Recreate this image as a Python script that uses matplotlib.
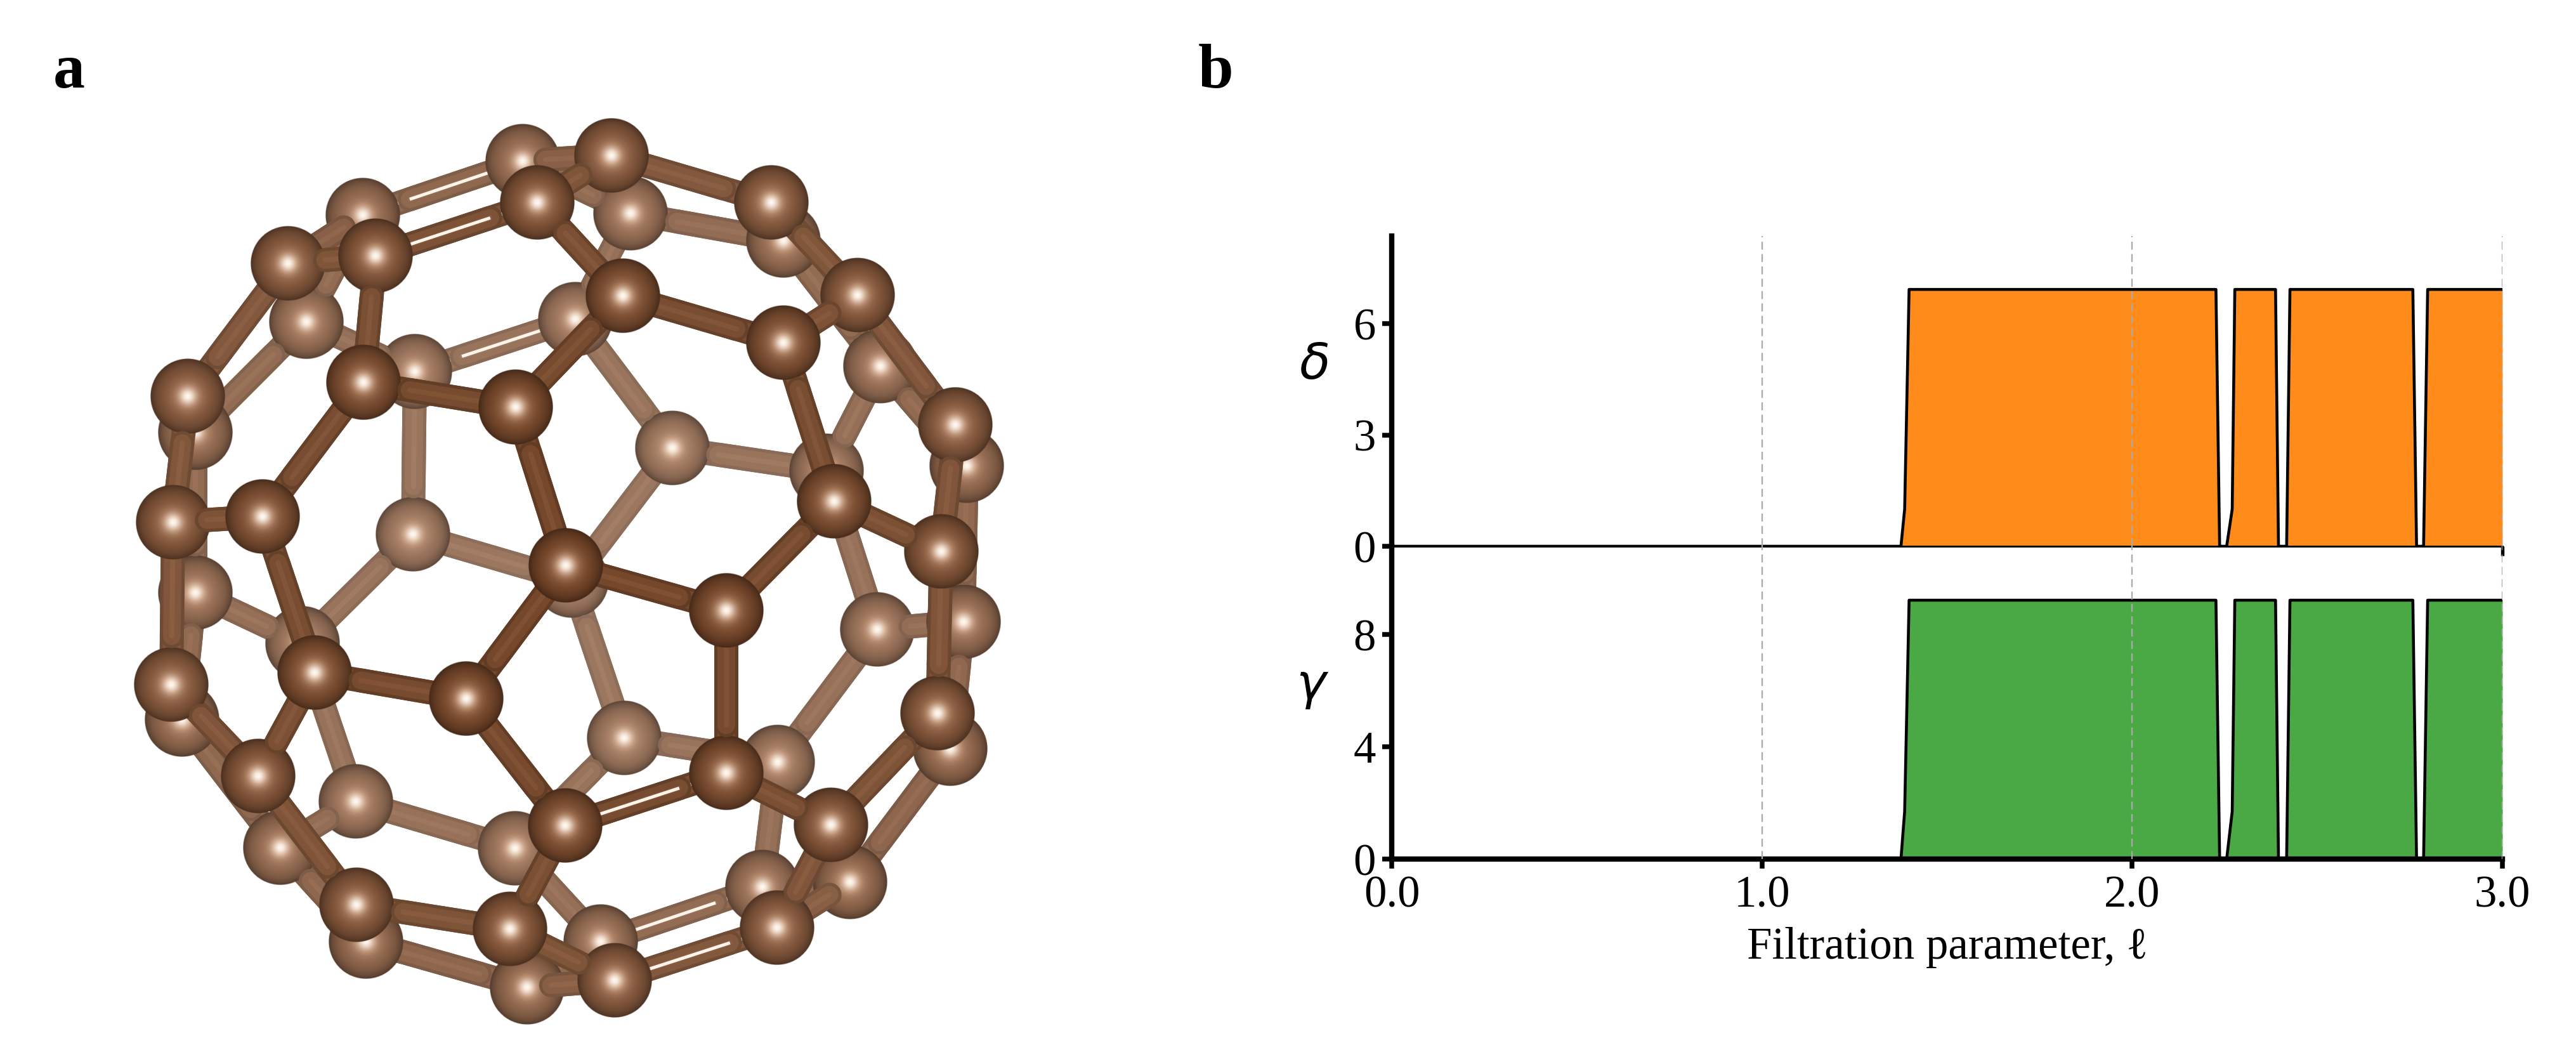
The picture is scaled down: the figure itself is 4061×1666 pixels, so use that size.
import numpy as np
import matplotlib
matplotlib.use('Agg')
import matplotlib.pyplot as plt

plt.rcParams['font.family'] = ['Liberation Serif', 'DejaVu Sans']

# Panel a: atom positions, in image pixels
front_names = ['a', 'b', 'c', 'd', 'e', 'f', 'g', 'h', 'i', 'j', 'k', 'l', 'm', 'n', 'o',
               'p', 'q', 'r', 's', 't', 'u', 'v', 'w', 'x', 'y', 'z', 'aa', 'bb', 'cc', 'dd']
front_x = [964, 847, 592, 454, 982, 573, 813, 296, 414, 273, 1216, 1352, 1235, 1506, 1315,
           892, 496, 735, 270, 407, 891, 562, 804, 969, 1145, 1484, 1145, 1310, 1478, 1225]
front_y = [245, 319, 403, 415, 466, 603, 642, 625, 814, 823, 319, 465, 540, 670, 790,
           891, 1060, 1101, 1079, 1223, 1301, 1426, 1464, 1545, 962, 869, 1218, 1300, 1124, 1462]

back_names = ['A', 'B', 'C', 'D', 'E', 'F', 'G', 'H', 'I', 'J', 'K', 'L', 'M', 'N', 'O',
              'P', 'Q', 'R', 'S', 'T', 'U', 'V', 'W', 'X', 'Y', 'Z', 'AA', 'BB', 'CC', 'DD']
back_x = [824, 572, 994, 483, 907, 654, 308, 651, 1235, 1388, 1060, 1524, 1303, 308, 477,
          287, 561, 442, 812, 577, 831, 947, 901, 1383, 1519, 984, 1226, 1498, 1202, 1340]
back_y = [254, 339, 336, 507, 503, 586, 682, 842, 379, 577, 706, 734, 742, 934, 1014,
          1134, 1263, 1336, 1337, 1484, 1556, 1484, 915, 992, 980, 1163, 1201, 1180, 1398, 1390]

single_bonds = [('a', 'b'), ('a', 'A'), ('a', 'k'), ('b', 'e'), ('c', 'd'), ('c', 'f'), ('d', 'h'), ('d', 'B'),
                ('e', 'g'), ('e', 'm'), ('f', 'g'), ('f', 'i'), ('g', 'p'), ('h', 'j'), ('h', 'G'), ('i', 'j'),
                ('i', 'q'), ('j', 's'), ('k', 'l'), ('k', 'I'), ('l', 'm'), ('l', 'n'), ('m', 'o'), ('n', 'z'),
                ('n', 'L'), ('o', 'y'), ('o', 'z'), ('p', 'y'), ('p', 'r'), ('q', 'r'), ('q', 't'), ('r', 'u'),
                ('s', 't'), ('s', 'P'), ('t', 'v'), ('u', 'w'), ('v', 'w'), ('v', 'T'), ('w', 'x'), ('x', 'U'),
                ('y', 'aa'), ('z', 'cc'), ('aa', 'bb'), ('bb', 'cc'), ('bb', 'dd'), ('cc', 'BB'), ('dd', 'DD'),
                ('A', 'C'), ('B', 'D'), ('C', 'I'), ('C', 'E'), ('D', 'F'), ('D', 'G'), ('E', 'K'), ('F', 'H'),
                ('G', 'N'), ('H', 'O'), ('H', 'W'), ('I', 'J'), ('J', 'M'), ('J', 'L'), ('K', 'M'), ('K', 'W'),
                ('L', 'Y'), ('M', 'X'), ('N', 'O'), ('N', 'P'), ('O', 'Q'), ('P', 'R'), ('Q', 'R'), ('Q', 'S'),
                ('R', 'T'), ('S', 'V'), ('S', 'Z'), ('U', 'V'), ('W', 'Z'), ('X', 'Y'), ('X', 'AA'), ('Y', 'BB'),
                ('Z', 'AA'), ('AA', 'CC'), ('CC', 'DD'), ('T', 'U'), ('BB', 'DD')]
double_bonds = [('b', 'c'), ('u', 'aa'), ('x', 'dd'), ('A', 'B'), ('E', 'F'), ('V', 'CC')]

# Panel b: step curves
delta_x = [0.0, 1.375, 1.385, 1.397, 2.226, 2.236, 2.255, 2.270, 2.277, 2.387, 2.395, 2.417, 2.426,
           2.758, 2.768, 2.787, 2.798, 3.0]
delta_y = [0, 0, 1.0, 6.92, 6.92, 0, 0, 1.0, 6.92, 6.92, 0, 0, 6.92, 6.92, 0, 0, 6.92, 6.92]
gamma_x = [0.0, 1.375, 1.385, 1.397, 2.226, 2.236, 2.255, 2.270, 2.277, 2.387, 2.395, 2.417, 2.426,
           2.758, 2.768, 2.787, 2.798, 3.0]
gamma_y = [0, 0, 1.7, 9.22, 9.22, 0, 0, 1.7, 9.22, 9.22, 0, 0, 9.22, 9.22, 0, 0, 9.22, 9.22]

W, H = 4062, 1666
fig = plt.figure(figsize=(W / 300, H / 300), dpi=300, facecolor='white')

# Molecule drawn in pixel units
ax_mol = fig.add_axes([0, 0, 1, 1])
ax_mol.axis('off')

RADIUS = 59
BALL = 690
CX, CY = 895, 895
px = 72 / 300  # points per pixel

pos = {}
for names, xs, ys, sign in [(front_names, front_x, front_y, 1), (back_names, back_x, back_y, -1)]:
    for n, x, y in zip(names, xs, ys):
        r2 = (x - CX) ** 2 + (y - CY) ** 2
        pos[n] = (x, y, sign * np.sqrt(max(BALL ** 2 - r2, 0)))


def fog_of(z):
    return 0.29 * (BALL - z) / (2 * BALL)


def fogged(c, fog):
    c = np.array(c, dtype=float)
    return (c + (np.array([255, 240, 230]) - c) * fog) / 255


def sphere(x, y, z):
    fog = fog_of(z)
    n = 140
    g = (np.arange(n) + 0.5) / n * 2 - 1
    xx, yy = np.meshgrid(g, g)
    r = np.sqrt(xx ** 2 + yy ** 2)
    body = fogged((112, 66, 38), fog)
    shade = (1 - 0.42 * np.clip(r, 0, 1) ** 5)[..., None]
    col = body * shade
    h2 = (0.75 * np.exp(-(r / 0.40) ** 2))[..., None]
    col = col * (1 - h2) + np.array([225, 175, 140]) / 255 * h2
    h1 = np.exp(-(r / 0.20) ** 2)[..., None]
    col = col * (1 - h1) + np.array([255, 247, 238]) / 255 * h1
    alpha = np.clip((1 - r) * n / 2, 0, 1)[..., None]
    img = np.concatenate([col, alpha], axis=2)
    ax_mol.imshow(img, extent=(x - RADIUS, x + RADIUS, y + RADIUS, y - RADIUS), aspect='auto',
                  interpolation='bilinear', zorder=1000 + z)


def stick(p1, p2, fog, zo, dbl):
    xs, ys = [p1[0], p2[0]], [p1[1], p2[1]]
    ax_mol.plot(xs, ys, color=fogged((96, 58, 34), fog), lw=38 * px, solid_capstyle='round', zorder=zo)
    ax_mol.plot(xs, ys, color=fogged((116, 71, 43), fog), lw=28 * px, solid_capstyle='round', zorder=zo + 0.001)
    ax_mol.plot(xs, ys, color=fogged((126, 79, 49), fog), lw=8 * px, solid_capstyle='round', zorder=zo + 0.002)
    if dbl:
        ax_mol.plot(xs, ys, color=(1.0, 0.96, 0.92), lw=5 * px, solid_capstyle='butt', zorder=zo + 0.003)


for n in pos:
    sphere(*pos[n])

for bonds, dbl in [(single_bonds, False), (double_bonds, True)]:
    for n1, n2 in bonds:
        p1, p2 = pos[n1], pos[n2]
        far, near = (p1, p2) if p1[2] < p2[2] else (p2, p1)
        dx, dy = near[0] - far[0], near[1] - far[1]
        l2 = np.hypot(dx, dy)
        l3 = np.hypot(l2, near[2] - far[2])
        cos = l2 / l3
        fog = fog_of((p1[2] + p2[2]) / 2)
        # part hidden behind the far atom fills the joint, part in front shows the rounded end
        stick(far, near, fog, 1000 + far[2] - 0.01, dbl)
        d = RADIUS * cos + 19
        end = (far[0] + dx / l2 * d, far[1] + dy / l2 * d)
        stick(end, near, fog, 1000 + (far[2] + near[2]) / 2, dbl)

ax_mol.set_xlim(0, W)
ax_mol.set_ylim(H, 0)

# Panel b axes
left, right = 2194.5 / W, 3945 / W
ax1 = fig.add_axes([left, 1 - 861 / H, right - left, (861 - 372) / H], facecolor='none')
ax2 = fig.add_axes([left, 1 - 1354 / H, right - left, (1354 - 861) / H], facecolor='none')

orange = '#FF8C1A'
green = '#4AA845'
for ax, xs, ys, col in [(ax1, delta_x, delta_y, orange), (ax2, gamma_x, gamma_y, green)]:
    ax.fill_between(xs, 0, ys, color=col, lw=0, zorder=2)
    ax.plot(xs, ys, color='black', lw=1.1, zorder=3)
    ax.set_xlim(0, 3)
    for v in [1, 2, 3]:
        ax.axvline(v, color='#aaaaaa', lw=0.55, dashes=(5.5, 3), zorder=4)
    ax.spines['top'].set_visible(False)
    ax.spines['right'].set_visible(False)
    ax.spines['left'].set_linewidth(2.0)
    ax.tick_params(axis='y', length=3.6, width=1.8, labelsize=17, pad=2.5)

ax1.set_ylim(0, (861 - 372) / 58.5)
ax1.set_yticks([0, 3, 6])
ax1.set_xticks([3])
ax1.set_xticklabels([''])
ax1.spines['bottom'].set_linewidth(0.7)
ax1.tick_params(axis='x', length=3.6, width=1.3)

ax2.set_ylim(0, (1354 - 861) / 44.25)
ax2.set_yticks([0, 4, 8])
ax2.set_xticks([0, 1, 2, 3])
ax2.set_xticklabels(['0.0', '1.0', '2.0', '3.0'])
ax2.spines['bottom'].set_linewidth(2.0)
ax2.tick_params(axis='x', length=3.6, width=1.8, labelsize=17, pad=2.5)
ax2.set_xlabel('Filtration parameter, \u2113', fontsize=17, labelpad=4)

ax1.text(-0.07, 0.585, '\u03b4', transform=ax1.transAxes, ha='center', va='center', fontsize=19,
         family='DejaVu Sans', style='italic')
ax2.text(-0.073, 0.556, '\u03b3', transform=ax2.transAxes, ha='center', va='center', fontsize=19,
         family='DejaVu Sans', style='italic')

fig.text(109 / W, 1 - 114 / H, 'a', fontsize=24, fontweight='bold', ha='center', va='center')
fig.text(1917 / W, 1 - 114 / H, 'b', fontsize=24, fontweight='bold', ha='center', va='center')

fig.savefig('out.png', dpi=300)
